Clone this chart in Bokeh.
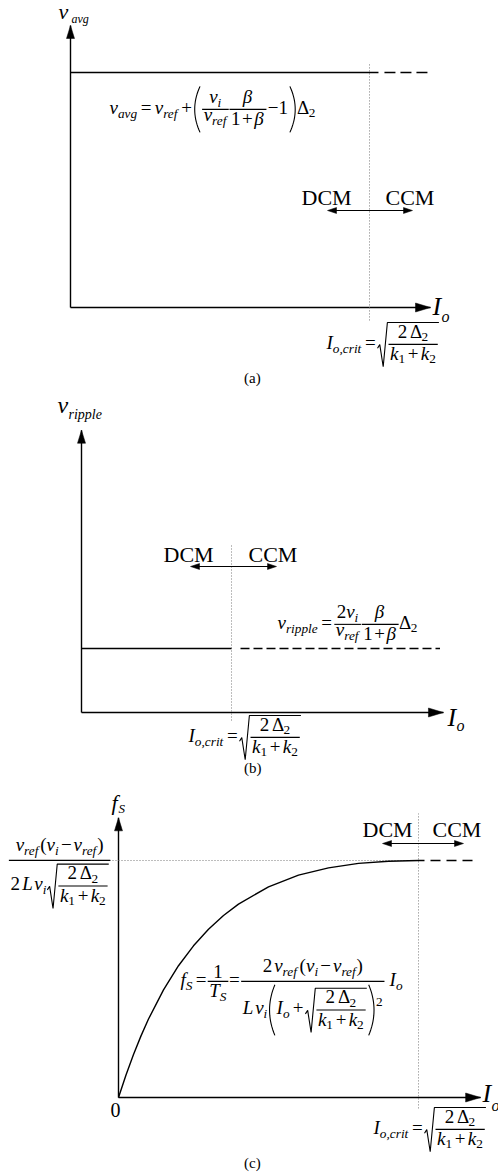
from bokeh.plotting import figure
from bokeh.models import Range1d, ColumnDataSource
from bokeh.core.properties import value, field
from bokeh.embed import file_html
from bokeh.resources import INLINE

W, H = 498, 1176
SERIF = "Liberation Serif"

# ---------------------------------------------------------------- data
# Load current is given in units of the critical current Io,crit.
# (a) average output voltage, normalised to its constant level
a_io_crit = 1.0
a_io_dcm = [0.0, 1.03]
a_vavg_dcm = [1.0, 1.0]
a_io_ccm = [1.05, 1.2]
a_vavg_ccm = [1.0, 1.0]

# (b) output ripple, normalised to its constant level
b_io_crit = 1.0
b_io_dcm = [0.0, 1.0]
b_vripple_dcm = [1.0, 1.0]
b_io_ccm = [1.06, 2.39]
b_vripple_ccm = [1.0, 1.0]

# (c) switching frequency, normalised to its maximum reached at Io,crit
c_io_crit = 1.0
c_fs_max = 1.0
c_io = [0.0, 0.025, 0.05, 0.075, 0.1, 0.15, 0.2, 0.25, 0.3, 0.35, 0.4,
        0.5, 0.6, 0.7, 0.8, 0.9, 1.0, 1.02]
c_fs = [0.0, 0.095, 0.181, 0.26, 0.331, 0.454, 0.556, 0.64, 0.71, 0.768,
        0.816, 0.889, 0.938, 0.969, 0.988, 0.997, 1.0, 1.0]
c_io_ccm = [1.04, 1.2]
c_fs_ccm = [1.0, 1.0]

# ---------------------------------------------------------------- panel geometry
# origin in page pixels, pixels per unit, axis / guide extents in data units
PANELS = {
    "a": dict(ox=70, oy=307, sx=299.0, sy=235.0, x_end=1.204, y_end=1.2,
              crit_lo=-0.055, crit_hi=1.043),
    "b": dict(ox=81, oy=712, sx=150.0, sy=64.0, x_end=2.413, y_end=4.41,
              crit_lo=-0.125, crit_hi=2.625),
    "c": dict(ox=118, oy=1097, sx=300.0, sy=237.0, x_end=1.207, y_end=1.18,
              crit_lo=-0.046, crit_hi=1.198),
}

p = figure(width=W, height=H, x_range=Range1d(0, W), y_range=Range1d(H, 0),
           x_axis_type=None, y_axis_type=None, output_backend="svg",
           toolbar_location=None, min_border=0)
p.outline_line_color = None
p.background_fill_color = "white"
p.border_fill_color = "white"
p.extra_x_ranges = {k: Range1d(-g["ox"] / g["sx"], (W - g["ox"]) / g["sx"])
                    for k, g in PANELS.items()}
p.extra_y_ranges = {k: Range1d((g["oy"] - H) / g["sy"], g["oy"] / g["sy"])
                    for k, g in PANELS.items()}


def to_px(k, x, y):
    g = PANELS[k]
    return g["ox"] + x * g["sx"], g["oy"] - y * g["sy"]


# ---------------------------------------------------------------- collectors
TEXTS = dict(x=[], y=[], text=[], size=[], style=[])
STROKES = dict(xs=[], ys=[])
HEADS = dict(xs=[], ys=[])

# the text glyph anchors on the middle of the line box; move the anchor up
# so that the given y is the alphabetic baseline
BASE_SHIFT = 0.38


def put(x, y, s, size, style="normal"):
    TEXTS["x"].append(x)
    TEXTS["y"].append(y - BASE_SHIFT * size)
    TEXTS["text"].append(s)
    TEXTS["size"].append("%.1fpx" % size)
    TEXTS["style"].append(style)


def stroke(xs, ys):
    STROKES["xs"].append(list(xs))
    STROKES["ys"].append(list(ys))


def head(tx, ty, dx, dy, length, half):
    bx, by = tx - dx * length, ty - dy * length
    nx, ny = -dy, dx
    HEADS["xs"].append([tx, bx + nx * half, bx - nx * half])
    HEADS["ys"].append([ty, by + ny * half, by - ny * half])


# ---------------------------------------------------------------- tiny formula layout
ROMAN = {" ": 0.25, "(": 0.333, ")": 0.333, "+": 0.564, "\u2212": 0.564,
         "=": 0.564, ",": 0.25, "\u0394": 0.612, "D": 0.722, "C": 0.667,
         "M": 0.889}
ITALIC = {"a": 0.5, "c": 0.444, "e": 0.444, "f": 0.278, "g": 0.5, "i": 0.278,
          "k": 0.444, "l": 0.278, "o": 0.5, "p": 0.5, "r": 0.389, "t": 0.278,
          "v": 0.444, "S": 0.5, "T": 0.556, "L": 0.556, "I": 0.333,
          "\u03b2": 0.56, ",": 0.25}
TALL = set("0123456789()\u0394\u03b2IkLTSfltDCM")
DESC = set("pg\u03b2f()")


class Txt:
    def __init__(self, s, italic):
        self.s, self.italic = s, italic

    def measure(self, S):
        tbl = ITALIC if self.italic else ROMAN
        w = sum(tbl.get(c, 0.5) for c in self.s) * S
        asc = (0.68 if any(c in TALL for c in self.s) else 0.46) * S
        desc = (0.2 if any(c in DESC for c in self.s) else 0.0) * S
        return w, asc, desc

    def draw(self, x, y, S):
        put(x, y, self.s, S, "italic" if self.italic else "normal")


def I(s):
    return Txt(s, True)


def R(s):
    return Txt(s, False)


class Sp:
    def __init__(self, em):
        self.em = em

    def measure(self, S):
        return self.em * S, 0.0, 0.0

    def draw(self, x, y, S):
        pass


class Row:
    def __init__(self, *items):
        self.items = items

    def measure(self, S):
        w = a = d = 0.0
        for it in self.items:
            iw, ia, idd = it.measure(S)
            w += iw
            a = max(a, ia)
            d = max(d, idd)
        return w, a, d

    def draw(self, x, y, S):
        for it in self.items:
            it.draw(x, y, S)
            x += it.measure(S)[0]


class Script:
    def __init__(self, node, up=False):
        self.node, self.up = node, up

    def shift(self, S):
        return -0.42 * S if self.up else 0.2 * S

    def measure(self, S):
        w, a, d = self.node.measure(0.7 * S)
        sh = self.shift(S)
        return w + 0.02 * S, max(0.0, a - sh), max(0.0, d + sh)

    def draw(self, x, y, S):
        self.node.draw(x, y + self.shift(S), 0.7 * S)


def Sub(node):
    return Script(node)


def Sup(node):
    return Script(node, up=True)


class Frac:
    def __init__(self, num, den):
        self.num, self.den = num, den

    def parts(self, S):
        nw, na, nd = self.num.measure(S)
        dw, da, dd = self.den.measure(S)
        w = max(nw, dw) + 0.2 * S
        return w, (nw, na, nd), (dw, da, dd)

    def measure(self, S):
        w, (nw, na, nd), (dw, da, dd) = self.parts(S)
        asc = 0.27 * S + 0.12 * S + nd + na
        desc = -0.27 * S + 0.18 * S + da + dd
        return w, asc, desc

    def draw(self, x, y, S):
        w, (nw, na, nd), (dw, da, dd) = self.parts(S)
        bar = y - 0.27 * S
        stroke([x + 0.02 * S, x + w - 0.02 * S], [bar, bar])
        self.num.draw(x + (w - nw) / 2, bar - 0.12 * S - nd, S)
        self.den.draw(x + (w - dw) / 2, bar + 0.18 * S + da, S)


class Sqrt:
    def __init__(self, node):
        self.node = node

    def measure(self, S):
        w, a, d = self.node.measure(S)
        return w + 0.6 * S, a + 0.17 * S, d + 0.12 * S

    def draw(self, x, y, S):
        w, a, d = self.node.measure(S)
        top = y - a - 0.15 * S
        bot = y + d + 0.12 * S
        h = bot - top
        stroke([x, x + 0.12 * S, x + 0.3 * S, x + 0.52 * S, x + 0.6 * S + w],
               [bot - 0.42 * h, bot - 0.5 * h, bot, top, top])
        self.node.draw(x + 0.56 * S, y, S)


class Paren:
    def __init__(self, node):
        self.node = node

    def extent(self, S, y):
        w, a, d = self.node.measure(S)
        axis = y - 0.27 * S
        half = max(a - 0.27 * S, d + 0.27 * S) + 0.15 * S
        return w, axis, half

    def measure(self, S):
        w, axis, half = self.extent(S, 0.0)
        return w + 0.95 * S, half + 0.27 * S, half - 0.27 * S

    def draw(self, x, y, S):
        w, axis, half = self.extent(S, y)
        n = 18
        ss = [-1 + 2 * t / n for t in range(n + 1)]
        ys = [axis + s * half for s in ss]
        stroke([x + 0.1 * S + 0.28 * S * s * s for s in ss], ys)
        xr = x + 0.95 * S + w
        stroke([xr - 0.1 * S - 0.28 * S * s * s for s in ss], ys)
        self.node.draw(x + 0.47 * S, y, S)


def typeset(node, x, y, S):
    node.draw(x, y, S)


# ---------------------------------------------------------------- formulas
FS = 19.0


def crit_frac():
    return Frac(Row(R("2"), Sp(0.15), R("\u0394"), Sub(R("2"))),
                Row(I("k"), Sub(R("1")), Sp(0.12), R("+"), Sp(0.12),
                    I("k"), Sub(R("2"))))


def io_crit():
    return Row(I("I"), Sub(I("o,crit")), Sp(0.17), R("="), Sp(0.1),
               Sqrt(crit_frac()))


def v_ref():
    return Row(I("v"), Sub(I("ref")))


def v_i():
    return Row(I("v"), Sub(I("i")))


def beta_frac():
    return Frac(I("\u03b2"), Row(R("1"), Sp(0.08), R("+"), Sp(0.08), I("\u03b2")))


f_avg = Row(I("v"), Sub(I("avg")), Sp(0.17), R("="), Sp(0.17), v_ref(),
            Sp(0.15), R("+"), Sp(0.05),
            Paren(Row(Frac(v_i(), v_ref()), beta_frac(), Sp(0.05),
                      R("\u2212"), R("1"))),
            R("\u0394"), Sub(R("2")))

f_ripple = Row(I("v"), Sub(I("ripple")), Sp(0.17), R("="), Sp(0.1),
               Frac(Row(R("2"), I("v"), Sub(I("i"))), v_ref()),
               beta_frac(), R("\u0394"), Sub(R("2")))


def diff():
    return Row(R("("), v_i(), Sp(0.1), R("\u2212"), Sp(0.1), v_ref(), R(")"))


f_fsmax = Frac(Row(v_ref(), Sp(0.05), diff()),
               Row(R("2"), Sp(0.12), I("L"), Sp(0.08), v_i(), Sp(0.03),
                   Sqrt(crit_frac())))

f_fs = Row(I("f"), Sub(I("S")), Sp(0.15), R("="), Sp(0.05),
           Frac(R("1"), Row(I("T"), Sub(I("S")))), Sp(0.02), R("="),
           Sp(0.05),
           Frac(Row(R("2"), Sp(0.1), v_ref(), Sp(0.1), diff()),
                Row(I("L"), Sp(0.1), v_i(),
                    Paren(Row(I("I"), Sub(I("o")), Sp(0.15), R("+"),
                              Sp(0.1), Sqrt(crit_frac()))),
                    Sup(R("2")))),
           Sp(0.25), I("I"), Sub(I("o")))

typeset(f_avg, 109, 114, FS)
typeset(io_crit(), 326, 349, FS)
typeset(f_ripple, 277, 629, FS)
typeset(io_crit(), 188, 742, FS)
typeset(f_fsmax, 8, 865, FS)
typeset(f_fs, 180, 986, FS)
typeset(io_crit(), 373, 1134, FS)

# ---------------------------------------------------------------- axis titles, regions, captions
put(58, 19, "v", 22, "italic")
put(71, 23, "avg", 12, "italic")
put(57, 414, "v", 24, "italic")
put(68, 419, "ripple", 14, "italic")
put(111, 810, "f", 22, "italic")
put(118, 813, "S", 13, "italic")

for ix, iy, oy_ in ((432, 316, 322), (447, 727, 731), (482, 1103, 1111)):
    put(ix, iy, "I", 26, "italic")
    put(ix + 9, oy_, "o", 16, "italic")

put(110, 1117, "0", 20)

for dx_, cx_, yb, ya, x0, x1 in ((301, 385, 205, 210, 327, 412),
                                 (163, 248, 562, 566, 190, 276),
                                 (362, 432, 837, 843, 382, 463)):
    put(dx_, yb, "DCM", 22)
    put(cx_, yb, "CCM", 22)
    stroke([x0 + 4, x1 - 4], [ya, ya])
    head(x0, ya, -1, 0, 9, 3)
    head(x1, ya, 1, 0, 9, 3)

for lbl, yb in (("(a)", 383), ("(b)", 773), ("(c)", 1168)):
    put(252 - 0.56 * 15, yb, lbl, 15)

# ---------------------------------------------------------------- axes and data
INK = "black"
DOT = "#7a7a7a"

for k, g in PANELS.items():
    kw = dict(x_range_name=k, y_range_name=k)
    p.line([0, g["x_end"]], [0, 0], line_color=INK, line_width=1.4, **kw)
    p.line([0, 0], [0, g["y_end"]], line_color=INK, line_width=1.4, **kw)
    tx, ty = to_px(k, g["x_end"], 0)
    head(tx, ty, 1, 0, 15, 4.5)
    tx, ty = to_px(k, 0, g["y_end"])
    head(tx, ty, 0, -1, 13, 4)

ka = dict(x_range_name="a", y_range_name="a")
p.line([a_io_crit, a_io_crit], [PANELS["a"]["crit_lo"], PANELS["a"]["crit_hi"]],
       line_color=DOT, line_width=1, line_dash="1 2", **ka)
p.line(a_io_dcm, a_vavg_dcm, line_color=INK, line_width=1.4, **ka)
p.line(a_io_ccm, a_vavg_ccm, line_color=INK, line_width=1.4, line_dash="11 5", **ka)

kb = dict(x_range_name="b", y_range_name="b")
p.line([b_io_crit, b_io_crit], [PANELS["b"]["crit_lo"], PANELS["b"]["crit_hi"]],
       line_color=DOT, line_width=1, line_dash="1 2", **kb)
p.line(b_io_dcm, b_vripple_dcm, line_color=INK, line_width=1.4, **kb)
p.line(b_io_ccm, b_vripple_ccm, line_color=INK, line_width=1.4, line_dash="9 4", **kb)

kc = dict(x_range_name="c", y_range_name="c")
p.line([c_io_crit, c_io_crit], [PANELS["c"]["crit_lo"], PANELS["c"]["crit_hi"]],
       line_color=DOT, line_width=1, line_dash="1 2", **kc)
p.line([-0.06, c_io_crit], [c_fs_max, c_fs_max],
       line_color=DOT, line_width=1, line_dash="1 2", **kc)
p.line(c_io, c_fs, line_color=INK, line_width=1.4, **kc)
p.line(c_io_ccm, c_fs_ccm, line_color=INK, line_width=1.4, line_dash="10 6", **kc)

# ---------------------------------------------------------------- formula strokes, heads, texts
p.multi_line(xs="xs", ys="ys", source=ColumnDataSource(STROKES),
             line_color=INK, line_width=1.1)
p.patches(xs="xs", ys="ys", source=ColumnDataSource(HEADS),
          fill_color=INK, line_color=INK, line_width=0.5)
p.text(x="x", y="y", text="text", source=ColumnDataSource(TEXTS),
       text_font=value(SERIF), text_font_size=field("size"),
       text_font_style=field("style"), text_baseline="alphabetic",
       text_align="left", text_color=INK)

open("out.html", "w").write(file_html(p, INLINE))
